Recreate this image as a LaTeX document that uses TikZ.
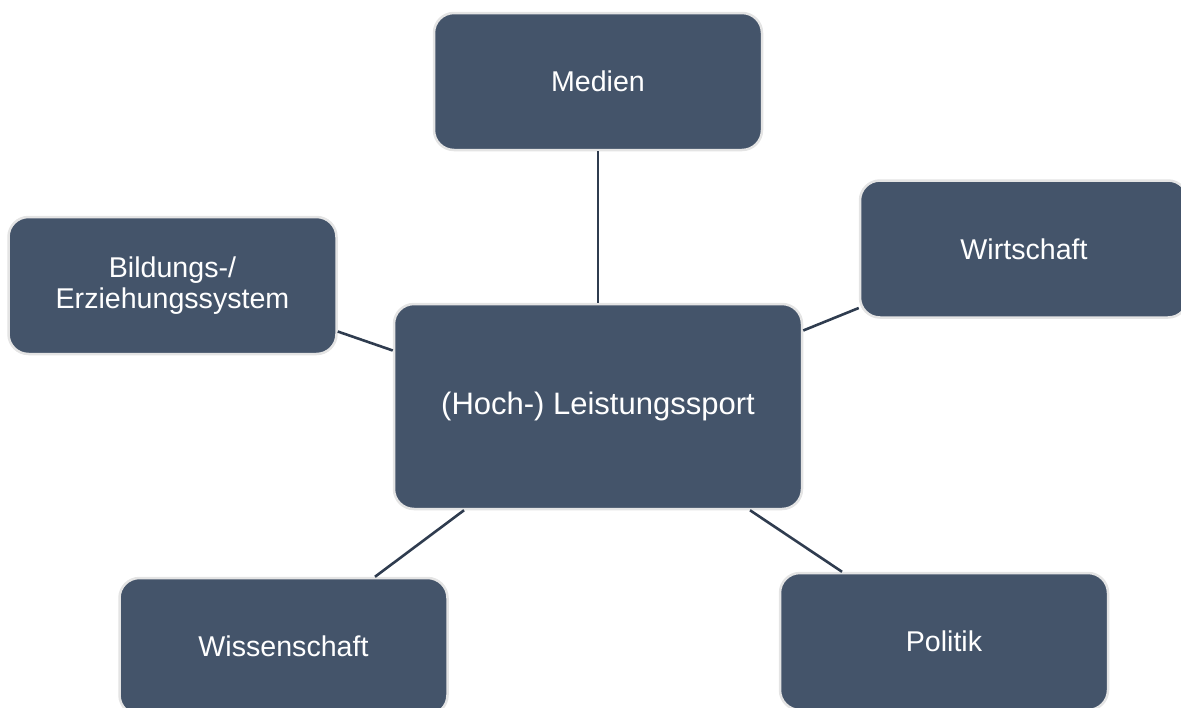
\documentclass[tikz,border=0pt]{standalone}
\usepackage{fontspec}
\setmainfont{Liberation Sans}
\definecolor{boxfill}{HTML}{44546A}
\definecolor{boxedge}{HTML}{E4E4E4}
\definecolor{linkcol}{HTML}{2F3C4F}
\begin{document}
\begin{tikzpicture}[x=1pt,y=-1pt,
  topic/.style={rectangle, rounded corners=20pt, fill=boxfill, draw=boxedge, line width=2.5pt,
    minimum width=328pt, minimum height=137pt, text=white, align=center, inner sep=0pt,
    font=\fontsize{28.6}{31}\selectfont},
  hub/.style={topic, minimum width=408pt, minimum height=205pt, font=\fontsize{31}{34}\selectfont},
  link/.style={draw=linkcol, line width=2.6pt}]
\useasboundingbox (0,0) rectangle (1181,707);
\clip (0,0) rectangle (1181,707);
\node[hub] (c) at (598,406.5) {(Hoch-) Leistungssport};
\node[topic] (med) at (598,81.5) {Medien};
\node[topic] (wirt) at (1024,249) {Wirtschaft};
\node[topic] (bild) at (172.5,285.5) {Bildungs-/\\Erziehungssystem};
\node[topic] (wiss) at (283.5,646.5) {Wissenschaft};
\node[topic] (pol) at (944,641.5) {Politik};
\draw[link] (med.south) -- (c.north);
\draw[link] ([yshift=-46pt]bild.east) -- ([yshift=56pt]c.west);
\draw[link] ([yshift=-59pt]wirt.west) -- ([yshift=76pt]c.east);
\draw[link] ([xshift=91.5pt]wiss.north) -- ([xshift=-134pt]c.south);
\draw[link] ([xshift=-102pt]pol.north) -- ([xshift=152pt]c.south);
\end{tikzpicture}
\end{document}
